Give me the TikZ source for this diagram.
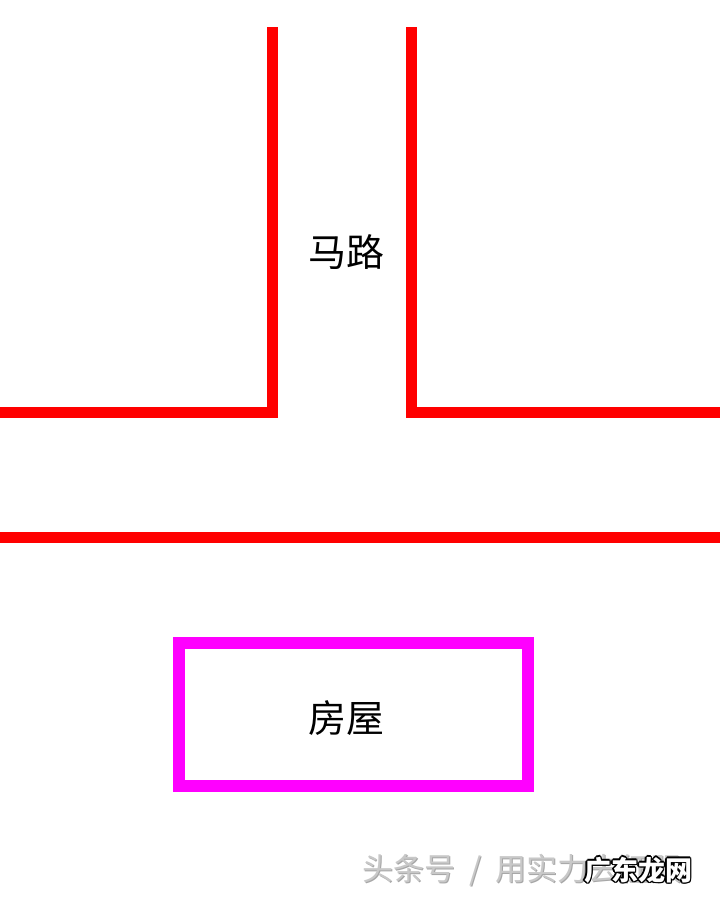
\documentclass[tikz,border=0pt]{standalone}
\usepackage{fontspec}
\newfontfamily\cjk{Noto Sans CJK SC}
\definecolor{roadred}{RGB}{255,0,0}
\definecolor{housemag}{RGB}{255,0,255}
\definecolor{wmgray}{RGB}{200,200,200}
\tikzset{
  road/.style={draw=roadred, line width=11pt, line cap=butt, line join=miter},
  house/.style={draw=housemag, line width=11.5pt},
  label/.style={font=\cjk\fontsize{38}{42}\selectfont, text=black, inner sep=0pt},
  wm/.style={font=\cjk\fontsize{31}{34}\selectfont, inner sep=0pt, anchor=west},
  wmo/.style={font=\cjk\bfseries\fontsize{27}{30}\selectfont, inner sep=0pt, anchor=west}
}
\begin{document}
\begin{tikzpicture}[x=1pt,y=-1pt]
\useasboundingbox[fill=white] (0,0) rectangle (720,900);
% road edges
\draw[road] (272,27) -- (272,412) -- (0,412);
\draw[road] (411,27) -- (411,412) -- (720,412);
\draw[road] (0,537) -- (720,537);
% house
\draw[house] (179,643) rectangle (528,786);
\node[label] (road) at (346,252) {马路};
\node[label] (houselbl) at (346,718) {房屋};
% watermark
\node[wm, text=gray!70] (wmshadow) at (363.5,871.5) {头条号 {\ }/{\ } 用实力去征服};
\node[wm, text=wmgray] (wmtext) at (362,870) {头条号 {\ }/{\ } 用实力去征服};
\foreach \dx/\dy in {-1.5/0,1.5/0,0/-1.5,0/1.5,-1.1/-1.1,1.1/1.1,-1.1/1.1,1.1/-1.1}{
  \node[wmo, text=black] at (584+\dx,870+\dy) {广东龙网};
}
\node[wmo, text=white] (wmover) at (584,870) {广东龙网};
\end{tikzpicture}
\end{document}
